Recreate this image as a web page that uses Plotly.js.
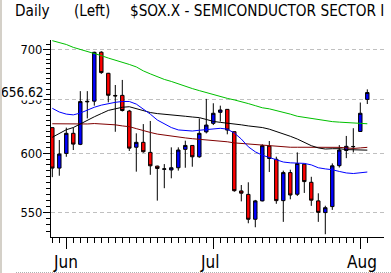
<!DOCTYPE html>
<html>
<head>
<meta charset="utf-8">
<script src="https://cdn.plot.ly/plotly-3.0.1.min.js"></script>
<style>
  html, body { margin: 0; padding: 0; background: #fff; }
  #wrap { position: relative; width: 391px; height: 273px; overflow: hidden; }
  #chart { position: absolute; left: 0; top: 0; width: 391px; height: 273px; }
  #frameL { position: absolute; left: 0; top: 0; width: 2px; height: 273px; background: #d4d0c8; }
  #frameB { position: absolute; left: 16px; right: 0; bottom: 0; height: 0; border-top: 1px dotted #b0b0b0; }
</style>
</head>
<body>
<div id="wrap">
  <div id="chart"></div>
  <div id="frameL"></div>
  <div id="frameB"></div>
</div>
<script>
// Trading days (daily bars)
const dates = [
  "2001-05-30","2001-05-31","2001-06-01","2001-06-04","2001-06-05","2001-06-06","2001-06-07","2001-06-08",
  "2001-06-11","2001-06-12","2001-06-13","2001-06-14","2001-06-15","2001-06-18","2001-06-19","2001-06-20",
  "2001-06-21","2001-06-22","2001-06-25","2001-06-26","2001-06-27","2001-06-28","2001-06-29","2001-07-02",
  "2001-07-03","2001-07-05","2001-07-06","2001-07-09","2001-07-10","2001-07-11","2001-07-12","2001-07-13",
  "2001-07-16","2001-07-17","2001-07-18","2001-07-19","2001-07-20","2001-07-23","2001-07-24","2001-07-25",
  "2001-07-26","2001-07-27","2001-07-30","2001-07-31","2001-08-01","2001-08-02"
];
const openP = [623.4,587.2,600.1,618.2,608.2,648.2,648.3,697.0,675.6,653.8,653.9,638.9,605.6,610.0,601.0,588.9,
  586.2,585.6,587.5,603.7,607.2,597.1,619.5,627.4,637.7,640.5,619.7,567.7,564.8,544.4,559.4,606.6,
  594.9,559.6,583.3,564.9,590.6,575.0,559.4,549.8,554.7,589.3,602.7,606.3,619.9,650.0];
const highP = [623.4,612.1,623.4,623.4,658.0,658.0,697.5,698.0,676.0,664.0,669.0,640.0,618.2,626.7,629.6,589.3,
  590.7,605.5,605.5,611.5,607.5,632.0,650.5,646.3,644.0,640.8,620.0,572.7,575.0,560.2,608.2,611.2,
  597.2,585.0,585.8,601.0,590.9,579.7,565.7,555.4,591.3,607.5,615.8,622.9,647.0,659.7];
const lowP = [579.4,580.6,597.1,603.1,607.5,632.0,644.0,675.0,647.2,619.6,638.5,602.3,584.1,600.7,581.4,559.6,
  570.0,578.4,585.0,587.5,588.4,596.2,618.1,625.8,629.0,617.3,567.0,559.0,541.2,538.0,559.0,583.8,
  557.0,542.3,560.7,563.5,566.0,555.3,542.3,532.5,552.0,587.7,595.9,601.0,619.5,645.6];
const closeP = [587.2,599.5,618.2,608.4,647.9,647.8,696.9,676.3,654.0,653.4,639.4,604.8,610.0,601.6,589.2,586.9,
  586.5,587.5,603.1,607.2,597.1,618.2,625.8,636.8,639.9,621.2,567.9,565.8,544.4,559.4,607.0,595.6,
  559.6,583.3,564.3,591.2,575.6,560.0,550.0,553.8,589.2,603.1,606.4,606.1,636.8,656.62];

// Moving averages
const maGreen = [709,707,705,702,700,698,695.5,693.5,691,689,687,684.5,682,678,675,672,669.5,667.5,665,663,
  660.5,658.5,656.5,654.5,653,651,649.5,648,646,644,642,641,639.5,637.5,636,634,633,631.5,630.5,629.5,
  629,628.5,628,627.7,627.3,627];
const maBlack = [614.6,618,621.5,623.5,627,630,633.5,636.5,639.5,641,642.5,643,641,639,637.5,636.5,635.7,635,
  634.4,634,633.3,632.7,631,629.2,628.3,627.7,627,626,625,624.3,623.5,622,620,617.5,615.5,613,610,607,
  605,604,604.3,604.3,603.5,603.2,603,603];
const maMaroon = [627,627,627,626.8,626.5,626.8,627.2,627,626.5,626,625,624.3,622.5,620.5,619,617.5,616.5,615.5,
  614.6,614,613.3,612.8,612,611.4,611.2,610.5,609.5,609,608.3,607.6,607.3,606.8,606.3,605.8,605.6,605.6,
  605.6,605.8,605.6,605.6,605.5,605.5,605,604.5,605,605.5];
const maBlue = [641.5,638,636,635.3,637,639.8,642.5,644.5,646,647.2,648,648,645.5,641,636,630.5,627,623.5,
  621.3,620.5,620.3,621,621.8,622.3,622.8,622,618.5,613,606,601.5,598.5,596.5,594.5,592.5,591.8,591.5,
  591.3,590,587.5,586.5,585.8,584.3,583,582.5,583.3,583.8];

const yTickVals = [550, 600, 650, 700];
const monthNames = ["Jan","Feb","Mar","Apr","May","Jun","Jul","Aug","Sep","Oct","Nov","Dec"];
const lastPriceLabel = "656.62";
const titleParts = ["Daily", "(Left)", "$SOX.X - SEMICONDUCTOR SECTOR I"];

const FONT = '"DejaVu Sans Condensed", "DejaVu Sans", sans-serif';

const idx = dates.map((d, i) => i);
const monthStarts = [];
const monthLabels = [];
dates.forEach((d, i) => {
  if (i > 0 && d.slice(5, 7) !== dates[i - 1].slice(5, 7)) {
    monthStarts.push(i);
    monthLabels.push(monthNames[parseInt(d.slice(5, 7), 10) - 1]);
  }
});
const minorY = [];
for (let v = 530; v <= 710; v += 5) minorY.push(v);

const traces = [
  {
    type: 'candlestick', x: idx, open: openP, high: highP, low: lowP, close: closeP,
    increasing: { line: { color: '#000000', width: 1 }, fillcolor: '#0000ff' },
    decreasing: { line: { color: '#000000', width: 1 }, fillcolor: '#ff0000' },
    whiskerwidth: 0, showlegend: false, hoverinfo: 'skip'
  },
  { type: 'scatter', mode: 'lines', x: idx, y: maGreen, line: { color: '#00c000', width: 1 }, showlegend: false, hoverinfo: 'skip' },
  { type: 'scatter', mode: 'lines', x: idx, y: maMaroon, line: { color: '#800000', width: 1 }, showlegend: false, hoverinfo: 'skip' },
  { type: 'scatter', mode: 'lines', x: idx, y: maBlack, line: { color: '#000000', width: 1 }, showlegend: false, hoverinfo: 'skip' },
  { type: 'scatter', mode: 'lines', x: idx, y: maBlue, line: { color: '#0000ff', width: 1 }, showlegend: false, hoverinfo: 'skip' }
];

const titleX = [12.7, 71.7, 127.7];
const annotations = titleParts.map((t, k) => ({
  text: t, xref: 'paper', yref: 'paper', x: 0, y: 1, xanchor: 'left', yanchor: 'middle',
  xshift: titleX[k] - 51, yshift: 29, showarrow: false, font: { family: FONT, size: 15.2, color: '#000' }
}));
annotations.push({
  text: lastPriceLabel, xref: 'paper', yref: 'y', x: 0, y: Math.log10(closeP[closeP.length - 1]),
  xanchor: 'right', yanchor: 'middle', xshift: -7, yshift: 0.5, showarrow: false, bgcolor: '#ffffff', borderpad: 0,
  font: { family: FONT, size: 13.5, color: '#000' }
});
monthStarts.forEach((m, k) => {
  annotations.push({ text: monthLabels[k], xref: 'x', yref: 'paper', x: m, y: 0, xanchor: 'left', yanchor: 'middle',
    xshift: -15.5, yshift: -25, showarrow: false, font: { family: FONT, size: 17, color: '#000' } });
});

const layout = {
  width: 391, height: 273,
  margin: { l: 51, r: 7, t: 40, b: 36, pad: 0 },
  paper_bgcolor: '#ffffff', plot_bgcolor: '#ffffff',
  showlegend: false,
  xaxis: {
    type: 'linear', range: [-0.186, 47.386], fixedrange: true,
    tickmode: 'array', tickvals: monthStarts, ticks: 'outside', ticklen: 11, tickwidth: 1, tickcolor: '#000',
    showticklabels: false, showline: true, linecolor: '#000', linewidth: 1, showgrid: false, zeroline: false,
    minor: { tickmode: 'array', tickvals: idx, ticks: 'outside', ticklen: 5, tickwidth: 1, tickcolor: '#000', showgrid: false },
    rangeslider: { visible: false }
  },
  yaxis: {
    type: 'log', range: [Math.log10(530.3), Math.log10(709.7)], fixedrange: true,
    tickmode: 'array', tickvals: yTickVals, ticktext: yTickVals.map(String),
    ticks: 'outside', ticklen: 7, tickwidth: 1, tickcolor: '#000', ticklabelstandoff: -2,
    showline: true, linecolor: '#000', linewidth: 1,
    showgrid: true, gridcolor: '#c0c0c0', gridwidth: 1, griddash: '4px,3px', zeroline: false,
    tickfont: { family: FONT, size: 12.8, color: '#000' },
    minor: { tickmode: 'array', tickvals: minorY, ticks: 'outside', ticklen: 4, tickwidth: 1, tickcolor: '#000', showgrid: false }
  },
  annotations: annotations
};

Plotly.newPlot('chart', traces, layout, { staticPlot: true, displayModeBar: false });
</script>
</body>
</html>
